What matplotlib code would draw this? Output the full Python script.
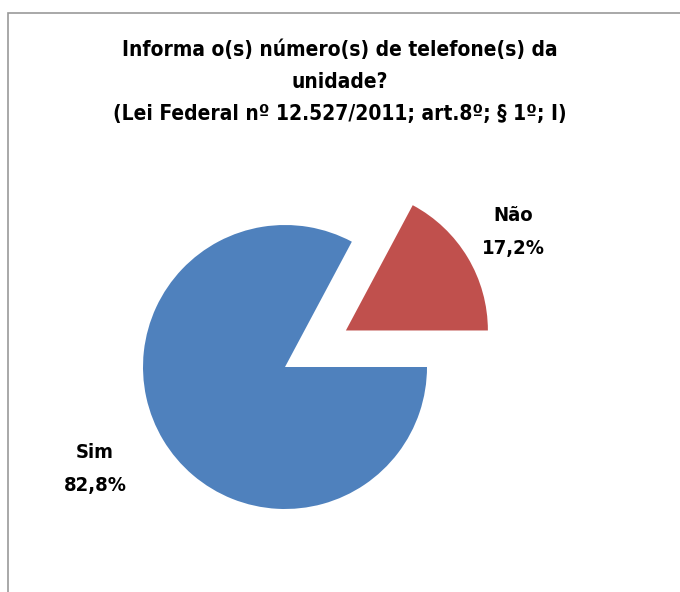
import matplotlib
matplotlib.use("Agg")
import matplotlib.pyplot as plt
from matplotlib.patches import Rectangle

labels = ["Não", "Sim"]
shares = [17.2, 82.8]
colors = ["#C0504D", "#4F81BD"]
title = ("Informa o(s) número(s) de telefone(s) da\nunidade?\n"
         "(Lei Federal nº 12.527/2011; art.8º; § 1º; I)")

plt.rcParams["font.family"] = ["DejaVu Sans"]
plt.rcParams["font.stretch"] = "condensed"

W, H = 680, 592
fig = plt.figure(figsize=(W / 100, H / 100), dpi=100)
ax = fig.add_axes([0, 0, 1, 1])
ax.set_xlim(0, W); ax.set_ylim(0, H)
ax.set_aspect("equal")
ax.axis("off")

# chart frame (extends past right/bottom edges)
ax.add_patch(Rectangle((8, -10), W + 10, H - 13 + 10, fill=False,
                       edgecolor="#999999", lw=1.2))

# explode is in data units here (radius 142 -> half a radius)
ax.pie(shares, colors=colors, startangle=0, counterclock=True,
       explode=[71, 0], radius=142, center=(285, H - 367),
       wedgeprops=dict(linewidth=0))
ax.set_xlim(0, W); ax.set_ylim(0, H)

ax.text(340, H - 82, title, ha="center", va="center", fontsize=15,
        fontweight="bold", linespacing=1.75)

pos = {"Não": (513, 232), "Sim": (95, 469)}
for lab, val in zip(labels, shares):
    x, y = pos[lab]
    ax.text(x, H - y, f"{lab}\n{val:.1f}%".replace(".", ","), ha="center",
            va="center", fontsize=14.5, fontweight="bold", linespacing=1.9)

fig.savefig("out.png", dpi=100)
